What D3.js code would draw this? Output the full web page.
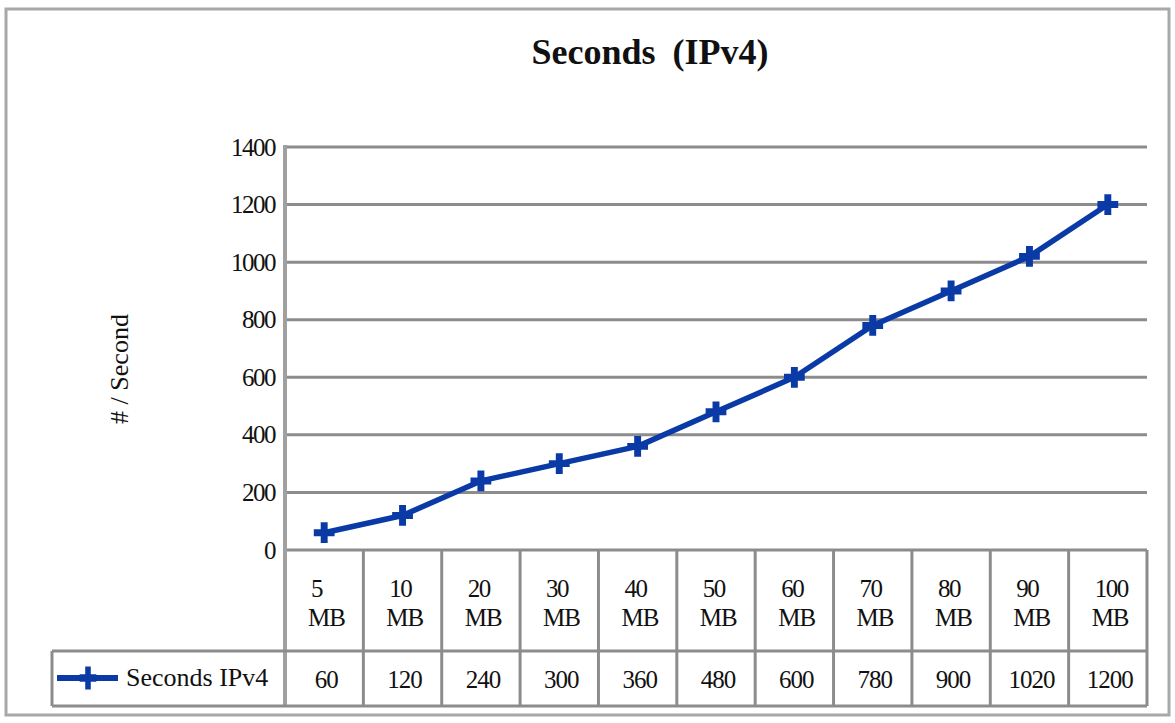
<!DOCTYPE html>
<html><head><meta charset="utf-8">
<script src="https://cdn.jsdelivr.net/npm/d3@7/dist/d3.min.js"></script>
<style>body{margin:0;background:#fff}svg{display:block}svg text{font-family:"Liberation Serif","Times New Roman",serif !important;fill:#111}</style>
</head><body>
<svg id="c" width="1175" height="723"></svg>
<script>
const categories = ["5", "10", "20", "30", "40", "50", "60", "70", "80", "90", "100"];
const unitLabel = "MB";
const seriesName = "Seconds IPv4";
const values = [60, 120, 240, 300, 360, 480, 600, 780, 900, 1020, 1200];
const yTicks = [0, 200, 400, 600, 800, 1000, 1200, 1400];
const title = "Seconds (IPv4)";
const yTitle = "# / Second";

const svg = d3.select("#c");
const L = 285, R = 1147, T = 147, B = 550;
const rowMid = 651, rowBot = 706, legendLeft = 52;
const gray = "#8c8c8c", blue = "#0a3aa6";

// outer frame
svg.append("rect").attr("x", 6).attr("y", 9).attr("width", 1163).attr("height", 706)
  .attr("fill", "none").attr("stroke", "#a8a8a8").attr("stroke-width", 3);

const x = d3.scaleBand().domain(categories).range([L, R]).padding(0);
const y = d3.scaleLinear().domain([0, 1400]).range([B, T]);

// title
svg.append("text").attr("x", 650).attr("y", 64).attr("text-anchor", "middle")
  .attr("font-size", 36).attr("font-weight", "bold").style("word-spacing", "8px").text(title);

// y title
svg.append("text").attr("transform", "translate(128,369) rotate(-90)")
  .attr("text-anchor", "middle").attr("font-size", 26).text(yTitle);

// gridlines
svg.append("g").selectAll("line").data(yTicks).join("line")
  .attr("x1", L).attr("x2", R).attr("y1", d => y(d)).attr("y2", d => y(d))
  .attr("stroke", gray).attr("stroke-width", 3);

// y axis with labels
const yAxis = d3.axisLeft(y).tickValues(yTicks).tickFormat(d3.format("d")).tickSize(0).tickPadding(10);
const ga = svg.append("g").attr("transform", `translate(${L},0)`).call(yAxis);
ga.select(".domain").remove();
ga.selectAll("text").attr("font-size", 25).attr("fill", "#111")
  .style("letter-spacing", "-1.5px");

// left axis line extending through table
svg.append("line").attr("x1", L).attr("x2", L).attr("y1", T - 2).attr("y2", rowBot)
  .attr("stroke", "#a0a0a0").attr("stroke-width", 4);

// table lines
const tb = svg.append("g");
categories.forEach((c, i) => {
  if (i === 0) return;
  tb.append("line").attr("x1", x(c)).attr("x2", x(c)).attr("y1", B).attr("y2", rowBot)
    .attr("stroke", gray).attr("stroke-width", 3);
});
tb.append("line").attr("x1", R).attr("x2", R).attr("y1", B).attr("y2", rowBot)
  .attr("stroke", gray).attr("stroke-width", 3);
tb.append("line").attr("x1", legendLeft).attr("x2", R).attr("y1", rowMid).attr("y2", rowMid)
  .attr("stroke", gray).attr("stroke-width", 3);
tb.append("line").attr("x1", legendLeft).attr("x2", R).attr("y1", rowBot).attr("y2", rowBot)
  .attr("stroke", gray).attr("stroke-width", 3);
tb.append("line").attr("x1", legendLeft).attr("x2", legendLeft).attr("y1", rowMid).attr("y2", rowBot)
  .attr("stroke", gray).attr("stroke-width", 3);

// category labels
const cx = c => x(c) + x.bandwidth() / 2;
const cg = svg.append("g").selectAll("g").data(categories).join("g");
cg.append("text").attr("x", c => x(c) + 26).attr("y", 597).attr("font-size", 25)
  .style("letter-spacing", "-1.5px").text(c => c);
cg.append("text").attr("x", c => x(c) + 23).attr("y", 626)
  .attr("font-size", 25).style("letter-spacing", "-1px").text(unitLabel);

// value row
svg.append("g").selectAll("text").data(values).join("text")
  .attr("x", (d, i) => cx(categories[i]) + 2).attr("y", 688).attr("text-anchor", "middle")
  .attr("font-size", 25).style("letter-spacing", "-1px").text(d => d);

// markers
const cross = d3.symbol().type(d3.symbolCross).size(240);
const ly = 678;
svg.append("line").attr("x1", 57).attr("x2", 118).attr("y1", ly).attr("y2", ly)
  .attr("stroke", blue).attr("stroke-width", 6);
svg.append("path").attr("d", cross()).attr("transform", `translate(88,${ly}) scale(0.8,1.1)`).attr("fill", blue);
svg.append("text").attr("x", 126).attr("y", 686).attr("font-size", 26).text(seriesName);

// series line
const line = d3.line().x((d, i) => cx(categories[i])).y(d => y(d));
svg.append("path").datum(values).attr("d", line).attr("fill", "none")
  .attr("stroke", blue).attr("stroke-width", 5.5).attr("stroke-linejoin", "round");
svg.append("g").selectAll("path").data(values).join("path")
  .attr("d", cross()).attr("transform", (d, i) => `translate(${cx(categories[i])},${y(d)})`)
  .attr("fill", blue);
</script>
</body></html>
